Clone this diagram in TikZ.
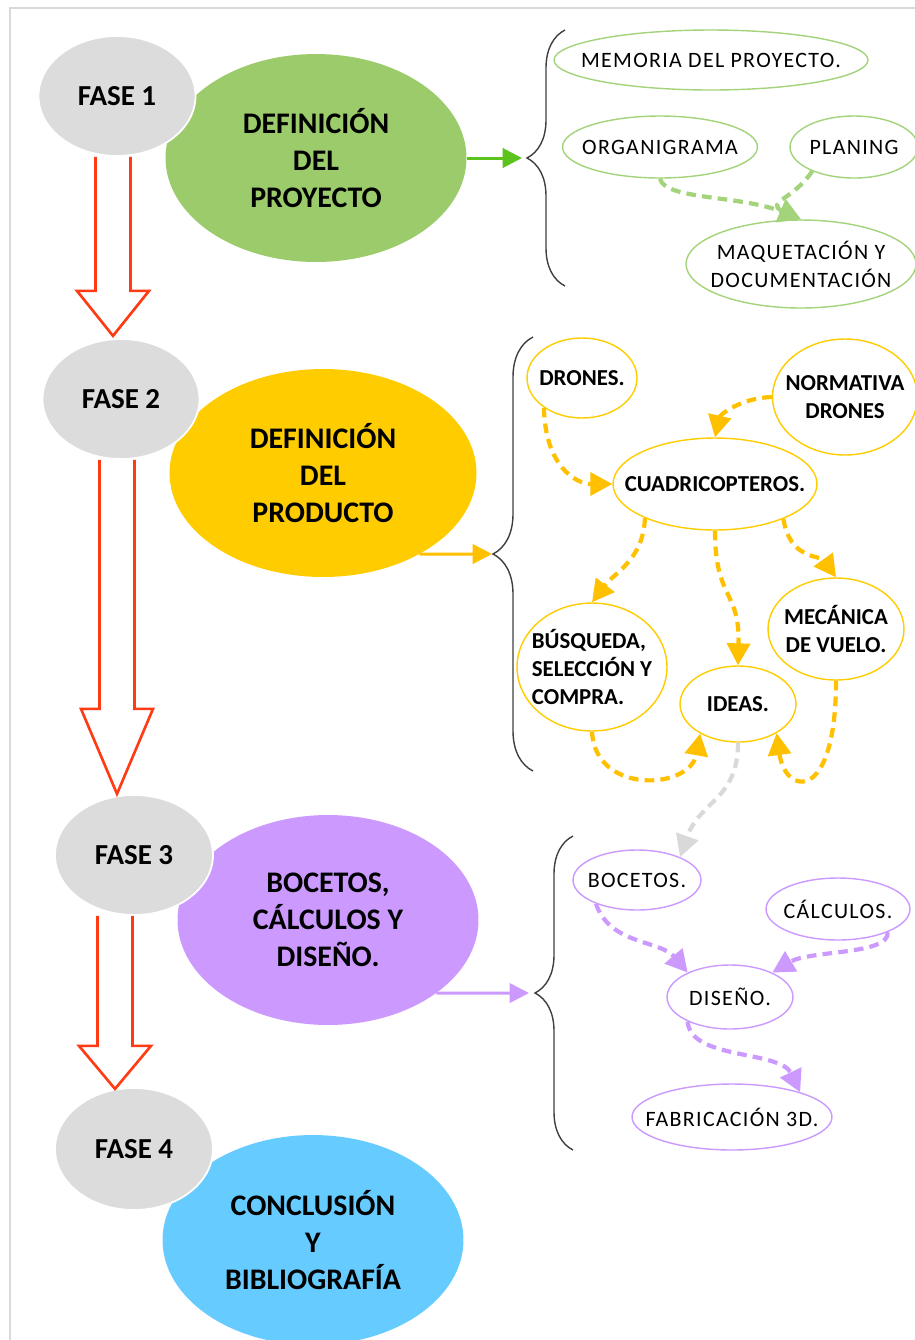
\documentclass[tikz,border=0pt]{standalone}
\usepackage{fontspec}
\setmainfont{Carlito}
\newfontfamily\spaced[LetterSpace=6]{Carlito}
\usetikzlibrary{shapes.geometric}
\usetikzlibrary{arrows.meta}
\usetikzlibrary{calc}
\usetikzlibrary{decorations.pathreplacing}
\definecolor{fgray}{HTML}{DCDCDC}
\definecolor{mgreen}{HTML}{9BCB6A}
\definecolor{lgreen}{HTML}{A3D37A}
\definecolor{agreen}{HTML}{5CC21C}
\definecolor{myellow}{HTML}{FFCC00}
\definecolor{dyellow}{HTML}{FFC000}
\definecolor{mpurple}{HTML}{CC99FF}
\definecolor{mblue}{HTML}{66CCFF}
\definecolor{mred}{HTML}{FF3B14}
\definecolor{igray}{HTML}{D9D9D9}
\definecolor{bracecol}{HTML}{404040}
\tikzset{fase/.style = {ellipse, fill=fgray, draw=white, line width=1pt, inner sep=0,
                        minimum width=3.14cm, minimum height=2.4cm,
                        font=\bfseries\fontsize{16.5}{20}\selectfont}}
\tikzset{main/.style = {ellipse, inner sep=0, align=center, minimum width=6.02cm, minimum height=4.16cm,
                        font=\bfseries\fontsize{17}{21}\selectfont}}
\tikzset{sub/.style = {ellipse, fill=white, line width=0.8pt, inner sep=-2cm, align=center}}
\tikzset{plaintxt/.style = {font=\spaced\fontsize{12.5}{16}\selectfont}}
\tikzset{boldtxt/.style = {font=\bfseries\fontsize{13}{16}\selectfont}}
\tikzset{tonext/.style = {line width=1.7pt, -{Triangle[length=11pt, width=11pt]}}}
\tikzset{dashy/.style = {line width=2.4pt, dash pattern=on 5.5pt off 3.5pt,
                         -{Triangle[length=12.5pt, width=13pt]}}}
\tikzset{hollow/.style = {draw=mred, line width=1.5pt, line join=miter}}
\tikzset{brc/.style = {draw=bracecol, line width=0.8pt, decorate, decoration={brace, amplitude=#1}}}

\begin{document}
\begin{tikzpicture}[x=0.02cm, y=-0.02cm]
    \useasboundingbox (0,0) rectangle (915,1340);
    \draw [igray, line width=1.2pt] (10,1340) -- (10,8) -- (915,8);

    \node [main, fill=mgreen] (p1) at (316,158) {DEFINICIÓN\\DEL\\PROYECTO};
    \node [main, fill=myellow, minimum width=6.14cm] (p2) at (323,473) {DEFINICIÓN\\DEL\\PRODUCTO};
    \node [main, fill=mpurple, minimum height=4.2cm] (p3) at (328,920) {BOCETOS,\\CÁLCULOS Y\\DISEÑO.};
    \node [main, fill=mblue, minimum height=4.2cm] (p4) at (313,1240) {CONCLUSIÓN\\Y\\BIBLIOGRAFÍA};

    \node [fase] (f1) at (117,96) {FASE 1};
    \node [fase] (f2) at (121,399) {FASE 2};
    \node [fase, minimum width=3.16cm] (f3) at (134,855) {FASE 3};
    \node [fase, minimum width=3.16cm, minimum height=2.44cm] (f4) at (134,1149) {FASE 4};

    \foreach \a/\dx/\len/\hd in {f1/-4/134/45, f2/-4/249/85, f3/-19/130/43} {
      \draw [hollow] ($(\a.south)+(\dx,0)$) ++(-17.5,0) -- ++(0,\len) -- ++(-18.5,0)
        -- ++(36,\hd) -- ++(36,-\hd) -- ++(-18.5,0) -- ++(0,-\len);
    }

    \draw [brc=0.76cm] (565,286) -- (565,30);
    \draw [brc=0.8cm] (533,771) -- (533,337);
    \draw [brc=0.76cm] (573,1150) -- (573,836);
    \coordinate (b1) at (522,158);
    \coordinate (b2) at (492,554);
    \coordinate (b3) at (529,993);
    \draw [tonext, agreen] (p1) -- (b1);
    \draw [tonext, dyellow] (p2.-40) -- (b2);
    \draw [tonext, mpurple] (p3.-34) -- (b3);

    \node [sub, plaintxt, draw=lgreen, minimum width=6.28cm, minimum height=1.2cm] (mem) at (711,60) {MEMORIA DEL PROYECTO.};
    \node [sub, plaintxt, draw=lgreen, minimum width=3.9cm, minimum height=1.24cm] (org) at (660,147) {ORGANIGRAMA};
    \node [sub, plaintxt, draw=lgreen, minimum width=2.56cm, minimum height=1.24cm] (plan) at (854,147) {PLANING};
    \node [sub, plaintxt, draw=lgreen, minimum width=4.6cm, minimum height=1.76cm] (maq) at (801,264) {MAQUETACIÓN Y\\DOCUMENTACIÓN};
    \draw [dashy, lgreen] (org.south) .. controls (665,200) and (740,195) .. (maq.north);
    \draw [dashy, lgreen] (plan.210) .. controls (795,198) and (765,203) .. (maq.north);

    \node [sub, boldtxt, draw=myellow, minimum width=2.2cm, minimum height=1.6cm] (dron) at (582,378) {DRONES.};
    \node [sub, boldtxt, draw=myellow, minimum width=2.9cm, minimum height=2.32cm] (norm) at (845,397) {NORMATIVA\\DRONES};
    \node [sub, boldtxt, draw=myellow, minimum width=4.08cm, minimum height=1.84cm] (cuad) at (715,484) {CUADRICOPTEROS.};
    \node [sub, boldtxt, draw=myellow, align=left, minimum width=3cm, minimum height=2.56cm] (busq) at (592,667) {BÚSQUEDA,\\SELECCIÓN Y\\COMPRA.};
    \node [sub, boldtxt, draw=myellow, minimum width=2.32cm, minimum height=1.52cm] (ideas) at (738,704) {IDEAS.};
    \node [sub, boldtxt, draw=myellow, minimum width=2.72cm, minimum height=2.04cm] (mec) at (836,629) {MECÁNICA\\DE VUELO.};
    \draw [dashy, dyellow] (dron.218) .. controls (545,465) and (575,484) .. (cuad.west);
    \draw [dashy, dyellow] (norm.west) .. controls (740,398) and (720,415) .. (cuad.north);
    \draw [dashy, dyellow] (cuad.206) .. controls (643,560) and (615,572) .. (busq.north);
    \draw [dashy, dyellow] (cuad.south) .. controls (715,600) and (740,590) .. (ideas.north);
    \draw [dashy, dyellow] (cuad.-27) .. controls (790,560) and (820,555) .. (mec.north);
    \draw [dashy, dyellow] (busq.south) .. controls (595,795) and (690,790) .. (ideas.218);
    \draw [dashy, dyellow] (mec.south) .. controls (836,805) and (785,795) .. (ideas.-37);

    \node [sub, plaintxt, draw=mpurple, minimum width=2.56cm, minimum height=1.2cm] (boc) at (637,880) {BOCETOS.};
    \node [sub, plaintxt, draw=mpurple, minimum width=2.88cm, minimum height=1.24cm] (calcu) at (838,909) {CÁLCULOS.};
    \node [sub, plaintxt, draw=mpurple, minimum width=2.52cm, minimum height=1.28cm] (dis) at (730,997) {DISEÑO.};
    \node [sub, plaintxt, draw=mpurple, minimum width=4cm, minimum height=1.32cm] (fab) at (732,1117) {FABRICACIÓN 3D.};
    \draw [dashy, igray] (ideas.south) .. controls (738,800) and (700,800) .. (boc.28);
    \draw [dashy, mpurple] (boc.210) .. controls (610,945) and (660,940) .. (dis.150);
    \draw [dashy, mpurple] (calcu.-25) .. controls (890,955) and (810,950) .. (dis.30);
    \draw [dashy, mpurple] (dis.210) .. controls (690,1060) and (780,1050) .. (fab.20);
\end{tikzpicture}
\end{document}
